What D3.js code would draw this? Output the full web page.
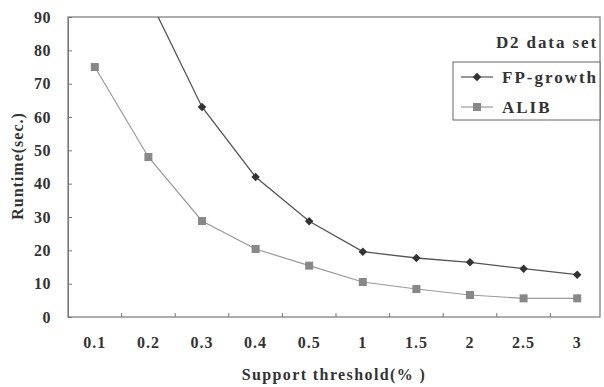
<!DOCTYPE html>
<html>
<head>
<meta charset="utf-8">
<script src="https://cdn.jsdelivr.net/npm/d3@7"></script>
<style>
  body { margin: 0; background: #fff; }
  text { font-family: "Liberation Serif", "DejaVu Serif", serif; font-weight: bold; fill: #333; }
</style>
</head>
<body>
<div id="chart"></div>
<script>
// data
const thresholds = ['0.1', '0.2', '0.3', '0.4', '0.5', '1', '1.5', '2', '2.5', '3'];
const fpGrowth = [130, 96, 63, 42, 28.7, 19.6, 17.7, 16.4, 14.5, 12.7];
const alib = [75, 48, 28.8, 20.4, 15.4, 10.5, 8.4, 6.6, 5.6, 5.6];
const yTicks = [0, 10, 20, 30, 40, 50, 60, 70, 80, 90];

const width = 604;
const height = 387;
const plotLeft = 68, plotTop = 17, plotRight = 604, plotBottom = 317;

const svg = d3.select('#chart').append('svg')
  .attr('width', width)
  .attr('height', height);

const x = d3.scaleBand()
  .domain(thresholds)
  .range([plotLeft, plotRight]);

const y = d3.scaleLinear()
  .domain([0, 90])
  .range([plotBottom, plotTop]);

// clip so the FP-growth line runs off the top
svg.append('clipPath').attr('id', 'plotClip')
  .append('rect')
  .attr('x', plotLeft).attr('y', plotTop)
  .attr('width', plotRight - plotLeft).attr('height', plotBottom - plotTop);

// frame
svg.append('rect')
  .attr('x', plotLeft).attr('y', plotTop)
  .attr('width', 600 - plotLeft).attr('height', plotBottom - plotTop)
  .attr('fill', 'none')
  .attr('stroke', '#777')
  .attr('stroke-width', 1.2);

// y axis, ticks inward
const yAxis = d3.axisLeft(y).tickValues(yTicks).tickSize(-4).tickPadding(17);
const yG = svg.append('g')
  .attr('transform', 'translate(' + plotLeft + ',0)')
  .call(yAxis);
yG.select('.domain').attr('stroke', '#777');
yG.selectAll('.tick line').attr('stroke', '#777');
yG.selectAll('.tick text')
  .attr('font-size', '16px')
  .attr('letter-spacing', '0.5px')
  .attr('fill', '#444');

// x axis ticks at band edges
const edges = thresholds.slice(1).map(d => x(d));
svg.append('g').selectAll('line')
  .data(edges)
  .enter().append('line')
  .attr('x1', d => d).attr('x2', d => d)
  .attr('y1', plotBottom).attr('y2', plotBottom - 4)
  .attr('stroke', '#777');

const xAxis = d3.axisBottom(x).tickSize(0).tickPadding(20);
const xG = svg.append('g')
  .attr('transform', 'translate(0,' + plotBottom + ')')
  .call(xAxis);
xG.select('.domain').remove();
xG.selectAll('.tick text')
  .attr('font-size', '16px')
  .attr('letter-spacing', '1px')
  .attr('fill', '#444');

// axis titles
svg.append('text')
  .attr('x', 334).attr('y', 380)
  .attr('text-anchor', 'middle')
  .attr('font-size', '16px')
  .attr('letter-spacing', '1.4px')
  .text('Support threshold(% )');

svg.append('text')
  .attr('transform', 'translate(23,166) rotate(-90)')
  .attr('text-anchor', 'middle')
  .attr('font-size', '16px')
  .attr('letter-spacing', '1px')
  .text('Runtime(sec.)');

const cx = d => x(d) + x.bandwidth() / 2;

const line = d3.line()
  .x((d, i) => cx(thresholds[i]))
  .y(d => y(d));

const plot = svg.append('g').attr('clip-path', 'url(#plotClip)');

plot.append('path')
  .datum(alib)
  .attr('fill', 'none')
  .attr('stroke', '#999')
  .attr('stroke-width', 1.2)
  .attr('d', line);

plot.append('path')
  .datum(fpGrowth)
  .attr('fill', 'none')
  .attr('stroke', '#555')
  .attr('stroke-width', 1.3)
  .attr('d', line);

// markers
const square = d3.symbol().type(d3.symbolSquare).size(64);
const diamond = d3.symbol().type(d3.symbolSquare).size(36); // rotated 45deg below

plot.selectAll('.alib')
  .data(alib)
  .enter().append('path')
  .attr('class', 'alib')
  .attr('d', square)
  .attr('fill', '#888')
  .attr('transform', (d, i) => 'translate(' + cx(thresholds[i]) + ',' + y(d) + ')');

plot.selectAll('.fp')
  .data(fpGrowth)
  .enter().append('path')
  .attr('class', 'fp')
  .attr('d', diamond)
  .attr('fill', '#333')
  .attr('transform', (d, i) => 'translate(' + cx(thresholds[i]) + ',' + y(d) + ') rotate(45)');

// legend
svg.append('text')
  .attr('x', 598).attr('y', 48)
  .attr('text-anchor', 'end')
  .attr('font-size', '17px')
  .attr('letter-spacing', '1.9px')
  .text('D2 data set');

const lg = svg.append('g');
lg.append('rect')
  .attr('x', 453).attr('y', 62)
  .attr('width', 147).attr('height', 58)
  .attr('fill', '#fff')
  .attr('stroke', '#666');

const legendItems = [
  { name: 'FP-growth', color: '#555', mark: '#333', sym: diamond, rot: 45, y: 77 },
  { name: 'ALIB', color: '#999', mark: '#888', sym: square, rot: 0, y: 107 }
];
legendItems.forEach(it => {
  lg.append('line')
    .attr('x1', 461).attr('x2', 493)
    .attr('y1', it.y).attr('y2', it.y)
    .attr('stroke', it.color)
    .attr('stroke-width', 1.2);
  lg.append('path')
    .attr('d', it.sym)
    .attr('fill', it.mark)
    .attr('transform', 'translate(477,' + it.y + ') rotate(' + it.rot + ')');
  lg.append('text')
    .attr('x', 502).attr('y', it.y + 6)
    .attr('font-size', '17px')
    .attr('letter-spacing', '2px')
    .text(it.name);
});
</script>
</body>
</html>
